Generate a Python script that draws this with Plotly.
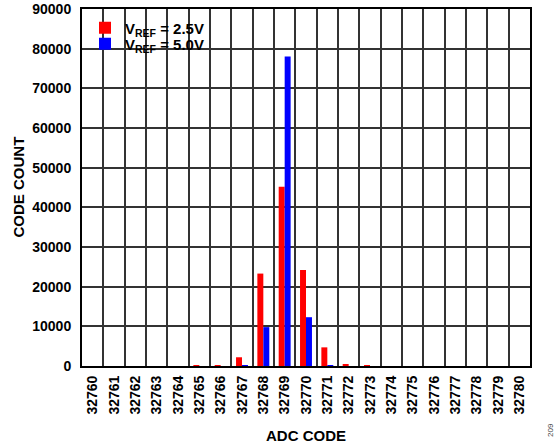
import plotly.graph_objects as go

codes = list(range(32760, 32781))
tick_labels = [str(c) for c in codes]
vref_25 = [0, 0, 0, 0, 0, 60, 80, 2200, 23300, 45200, 24200, 4700, 300, 80, 0, 0, 0, 0, 0, 0, 0]
vref_50 = [0, 0, 0, 0, 0, 0, 0, 60, 9800, 78000, 12300, 100, 0, 0, 0, 0, 0, 0, 0, 0, 0]

FONT = "Liberation Sans, Arial, sans-serif"
W, H = 557, 446
PX0, PX1, PY0, PY1 = 82, 530, 9, 366
L, R, T, B = PX0, W - PX1, PY0, H - PY1
PW, PH = PX1 - PX0, PY1 - PY0


def px(x):
    return (x - PX0) / PW


def py(y):
    return (PY1 - y) / PH


fig = go.Figure()
fig.add_trace(go.Bar(x=codes, y=vref_25, name="<b>V<sub>REF</sub> = 2.5V</b>",
                     marker=dict(color="#ff0000", line=dict(width=0)), legend="legend"))
fig.add_trace(go.Bar(x=codes, y=vref_50, name="<b>V<sub>REF</sub> = 5.0V</b>",
                     marker=dict(color="#0000ff", line=dict(width=0)), legend="legend2"))

leg_common = dict(xanchor="left", yanchor="middle", bgcolor="rgba(0,0,0,0)", borderwidth=0,
                  font=dict(family=FONT, size=15, color="black"), itemwidth=30)
fig.update_layout(
    width=W, height=H,
    margin=dict(l=L, r=R, t=T, b=B, autoexpand=False),
    paper_bgcolor="white", plot_bgcolor="white",
    barmode="group", bargap=0.44, bargroupgap=0,
    font=dict(family=FONT, size=14, color="black"),
    showlegend=True,
    legend=dict(x=px(85), y=py(28), **leg_common),
    legend2=dict(x=px(85), y=py(44), **leg_common),
)
fig.update_xaxes(
    automargin=False,
    range=[32759.5, 32780.5],
    tickmode="array", tickvals=codes, ticktext=tick_labels,
    tickangle=-90, tickfont=dict(family=FONT, size=14, color="black", weight="bold"),
    showgrid=False, zeroline=False,
    showline=True, linecolor="black", linewidth=2, mirror=True,
    ticks="", ticklabelstandoff=2, ticklabeloverflow="allow",
    minor=dict(tick0=32759.5, dtick=1, showgrid=True, gridcolor="#333333", gridwidth=1.5, ticks=""),
)
fig.update_yaxes(
    automargin=False,
    range=[0, 90000], tickmode="linear", tick0=0, dtick=10000, tickformat="d",
    tickfont=dict(family=FONT, size=14, color="black", weight="bold"),
    showgrid=True, gridcolor="#333333", gridwidth=1.5,
    zeroline=False,
    showline=True, linecolor="black", linewidth=2, mirror=True,
    ticks="", ticklabelstandoff=6, ticklabeloverflow="allow",
)
fig.add_shape(type="rect", xref="paper", yref="paper",
              x0=px(97), x1=px(207), y0=py(53), y1=py(12),
              fillcolor="white", line=dict(width=0), layer="between")
fig.add_annotation(text="<b>ADC CODE</b>", xref="paper", yref="paper",
                   x=0.5, y=py(435), xanchor="center", yanchor="middle",
                   showarrow=False, font=dict(family=FONT, size=15, color="black"))
fig.add_annotation(text="<b>CODE COUNT</b>", xref="paper", yref="paper",
                   x=px(18), y=0.5, xanchor="center", yanchor="middle",
                   textangle=-90, showarrow=False, font=dict(family=FONT, size=15, color="black"))
fig.add_annotation(text="209", xref="paper", yref="paper",
                   x=px(550), y=py(430), xanchor="center", yanchor="middle",
                   textangle=-90, showarrow=False, font=dict(family=FONT, size=8, color="#444444"))

fig.write_html("out.html", config={"displayModeBar": False},
               post_script="document.body.style.margin='0';")
